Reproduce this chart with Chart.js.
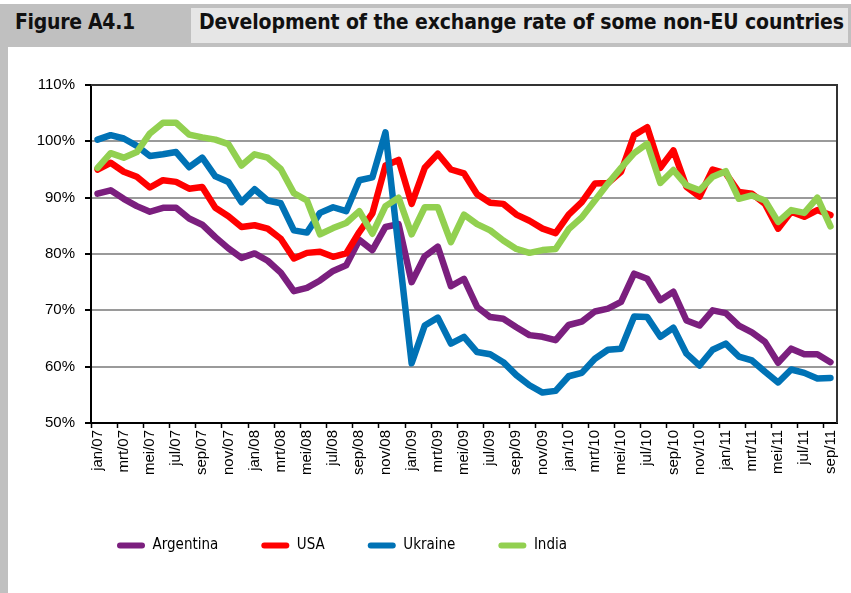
<!DOCTYPE html>
<html>
<head>
<meta charset="utf-8">
<script src="https://cdn.jsdelivr.net/npm/chart.js@4.4.1/dist/chart.umd.min.js"></script>
<style>
    html, body { margin: 0; padding: 0; background: #fff; }
    body { width: 851px; height: 593px; position: relative; overflow: hidden; }
    .band { position: absolute; left: 0; top: 4px; width: 851px; height: 43px; background: #c0c0c0; }
    .strip { position: absolute; left: 0; top: 47px; width: 8px; height: 546px; background: #c0c0c0; }
    .fig { position: absolute; left: 15px; top: 10px; font: bold 21px 'DejaVu Sans Condensed', sans-serif; letter-spacing: -0.3px; color: #111; }
    .titlebox { position: absolute; left: 191px; top: 8px; width: 657px; height: 35px; background: #e6e6e6; }
    .title { position: absolute; left: 8px; top: 2px; font: bold 21px 'DejaVu Sans Condensed', sans-serif; letter-spacing: -0.1px; color: #111; white-space: nowrap; }
    .wrap { position: absolute; left: 8px; top: 47px; width: 843px; height: 546px; }
</style>
</head>
<body>
<div class="band"></div>
<div class="strip"></div>
<div class="fig">Figure A4.1</div>
<div class="titlebox"><div class="title">Development of the exchange rate of some non-EU countries</div></div>
<div class="wrap"><canvas id="chart-fx"></canvas></div>

<script>
// monthly, jan/07 .. sep/11 (Dutch month abbreviations)
const months = ['jan', 'feb', 'mrt', 'apr', 'mei', 'jun', 'jul', 'aug', 'sep', 'okt', 'nov', 'dec'];
const years = ['07', '08', '09', '10', '11'];
const labels = [];
years.forEach(y => months.forEach(m => labels.push(m + '/' + y)));
labels.length = 57;

const argentina = [90.7, 91.3, 89.8, 88.5, 87.5, 88.2, 88.2, 86.3, 85.2, 83.0,
    81.0, 79.3, 80.1, 78.8, 76.7, 73.4, 74.0, 75.3, 77.0, 78.0,
    82.5, 80.7, 84.8, 85.3, 75.0, 79.6, 81.3, 74.3, 75.6, 70.6,
    68.8, 68.5, 67.0, 65.6, 65.3, 64.7, 67.4, 68.0, 69.8, 70.3,
    71.5, 76.5, 75.6, 71.8, 73.3, 68.2, 67.3, 70.0, 69.5, 67.3,
    66.1, 64.4, 60.7, 63.2, 62.2, 62.2, 60.8];
const usa = [95.0, 96.2, 94.6, 93.7, 91.8, 93.1, 92.8, 91.6, 91.9, 88.2,
    86.7, 84.8, 85.1, 84.5, 82.7, 79.2, 80.2, 80.4, 79.5, 80.1,
    83.9, 87.2, 95.7, 96.7, 88.9, 95.3, 97.8, 95.0, 94.3, 90.6,
    89.1, 88.9, 87.0, 85.9, 84.5, 83.7, 87.0, 89.2, 92.5, 92.6,
    94.6, 101.1, 102.5, 95.3, 98.4, 91.9, 90.2, 95.0, 94.3, 91.0,
    90.7, 88.9, 84.5, 87.5, 86.6, 87.8, 86.9];
const ukraine = [100.3, 101.1, 100.5, 99.2, 97.4, 97.7, 98.1, 95.4, 97.1, 93.8,
    92.8, 89.2, 91.5, 89.5, 89.0, 84.2, 83.8, 87.3, 88.3, 87.6,
    93.1, 93.6, 101.6, 81.0, 60.6, 67.3, 68.7, 64.1, 65.3, 62.6,
    62.2, 60.8, 58.5, 56.7, 55.4, 55.7, 58.3, 58.9, 61.4, 63.0,
    63.2, 68.9, 68.8, 65.3, 66.9, 62.3, 60.2, 63.0, 64.1, 61.8,
    61.1, 59.1, 57.2, 59.5, 58.9, 57.9, 58.0];
const india = [95.3, 97.9, 97.1, 98.1, 101.4, 103.3, 103.3, 101.2, 100.7, 100.3,
    99.5, 95.7, 97.7, 97.1, 95.1, 90.8, 89.5, 83.5, 84.6, 85.5,
    87.6, 83.6, 88.5, 90.0, 83.5, 88.3, 88.3, 82.1, 87.0, 85.3,
    84.2, 82.4, 80.9, 80.2, 80.7, 80.9, 84.4, 86.5, 89.5, 92.5,
    95.3, 97.9, 99.6, 92.6, 94.9, 92.2, 91.3, 93.7, 94.7, 89.8,
    90.4, 89.5, 85.7, 87.8, 87.3, 90.0, 84.9];

const yMin = 50, yMax = 110, yStep = 10;

const seriesNames = ['Argentina', 'USA', 'Ukraine', 'India'];
const seriesColors = ['#7b1f7e', '#ff0000', '#0072b5', '#92d050'];
const seriesData = [argentina, usa, ukraine, india];

const labelFont = "'Liberation Sans', Arial, sans-serif";
const legendFont = "'DejaVu Sans Condensed', sans-serif";

// frame on top and right of the plot area
const plotFrame = {
    id: 'plotFrame',
    afterLayout(chart) {
        // legend sits further right than the canvas edge
        if (chart.legend) chart.legend.left += 66;
    },
    beforeDatasetsDraw(chart) {
        const { ctx, chartArea: a } = chart;
        ctx.save();
        ctx.strokeStyle = '#333';
        ctx.lineWidth = 2;
        ctx.beginPath();
        ctx.moveTo(a.left, a.top);
        ctx.lineTo(a.right, a.top);
        ctx.lineTo(a.right, a.bottom);
        ctx.stroke();
        ctx.restore();
    },
};

new Chart(document.getElementById('chart-fx'), {
    type: 'line',
    data: {
        labels,
        datasets: seriesNames.map((name, i) => ({
            label: name,
            data: seriesData[i],
            borderColor: seriesColors[i],
            backgroundColor: seriesColors[i],
            borderWidth: 6.5,
            borderJoinStyle: 'round',
            borderCapStyle: 'round',
            pointRadius: 0,
            tension: 0,
            order: seriesNames.length - i, // later series drawn on top
        })),
    },
    options: {
        responsive: true,
        maintainAspectRatio: false,
        animation: false,
        layout: { padding: { left: 0, right: 14, top: 38, bottom: 30 } },
        scales: {
            x: {
                offset: true,
                afterFit: s => { s.height = 72; },
                border: { color: '#000', width: 2 },
                grid: {
                    offset: true,
                    drawOnChartArea: false,
                    tickLength: 5,
                    tickWidth: 1.5,
                    tickColor: c => (c.index % 2 === 0 ? '#000' : 'rgba(0,0,0,0)'),
                },
                ticks: {
                    autoSkip: false,
                    maxRotation: 90,
                    minRotation: 90,
                    padding: 2,
                    color: '#000',
                    font: { family: labelFont, size: 15 },
                    callback: (v, i) => (i % 2 === 0 ? labels[i] : ''),
                },
            },
            y: {
                min: yMin,
                max: yMax,
                afterFit: s => { s.width = 83; },
                border: { color: '#000', width: 2 },
                grid: {
                    color: c => (c.tick && c.tick.value === yMax ? '#333' : '#9a9a9a'),
                    lineWidth: 2,
                    tickLength: 6,
                    tickColor: '#000',
                },
                ticks: {
                    stepSize: yStep,
                    padding: 10,
                    color: '#000',
                    font: { family: labelFont, size: 15 },
                    callback: v => v + '%',
                },
            },
        },
        plugins: {
            legend: {
                position: 'bottom',
                align: 'start',
                labels: {
                    boxWidth: 28,
                    boxHeight: 6,
                    useBorderRadius: true,
                    borderRadius: 3,
                    padding: 43,
                    color: '#000',
                    font: { family: legendFont, size: 15 },
                    generateLabels: chart => Chart.defaults.plugins.legend.labels.generateLabels(chart)
                        .map(l => ({ ...l, lineWidth: 0 }))
                        .sort((a, b) => a.datasetIndex - b.datasetIndex),
                },
            },
            tooltip: { enabled: false },
        },
    },
    plugins: [plotFrame],
});
</script>
</body>
</html>
